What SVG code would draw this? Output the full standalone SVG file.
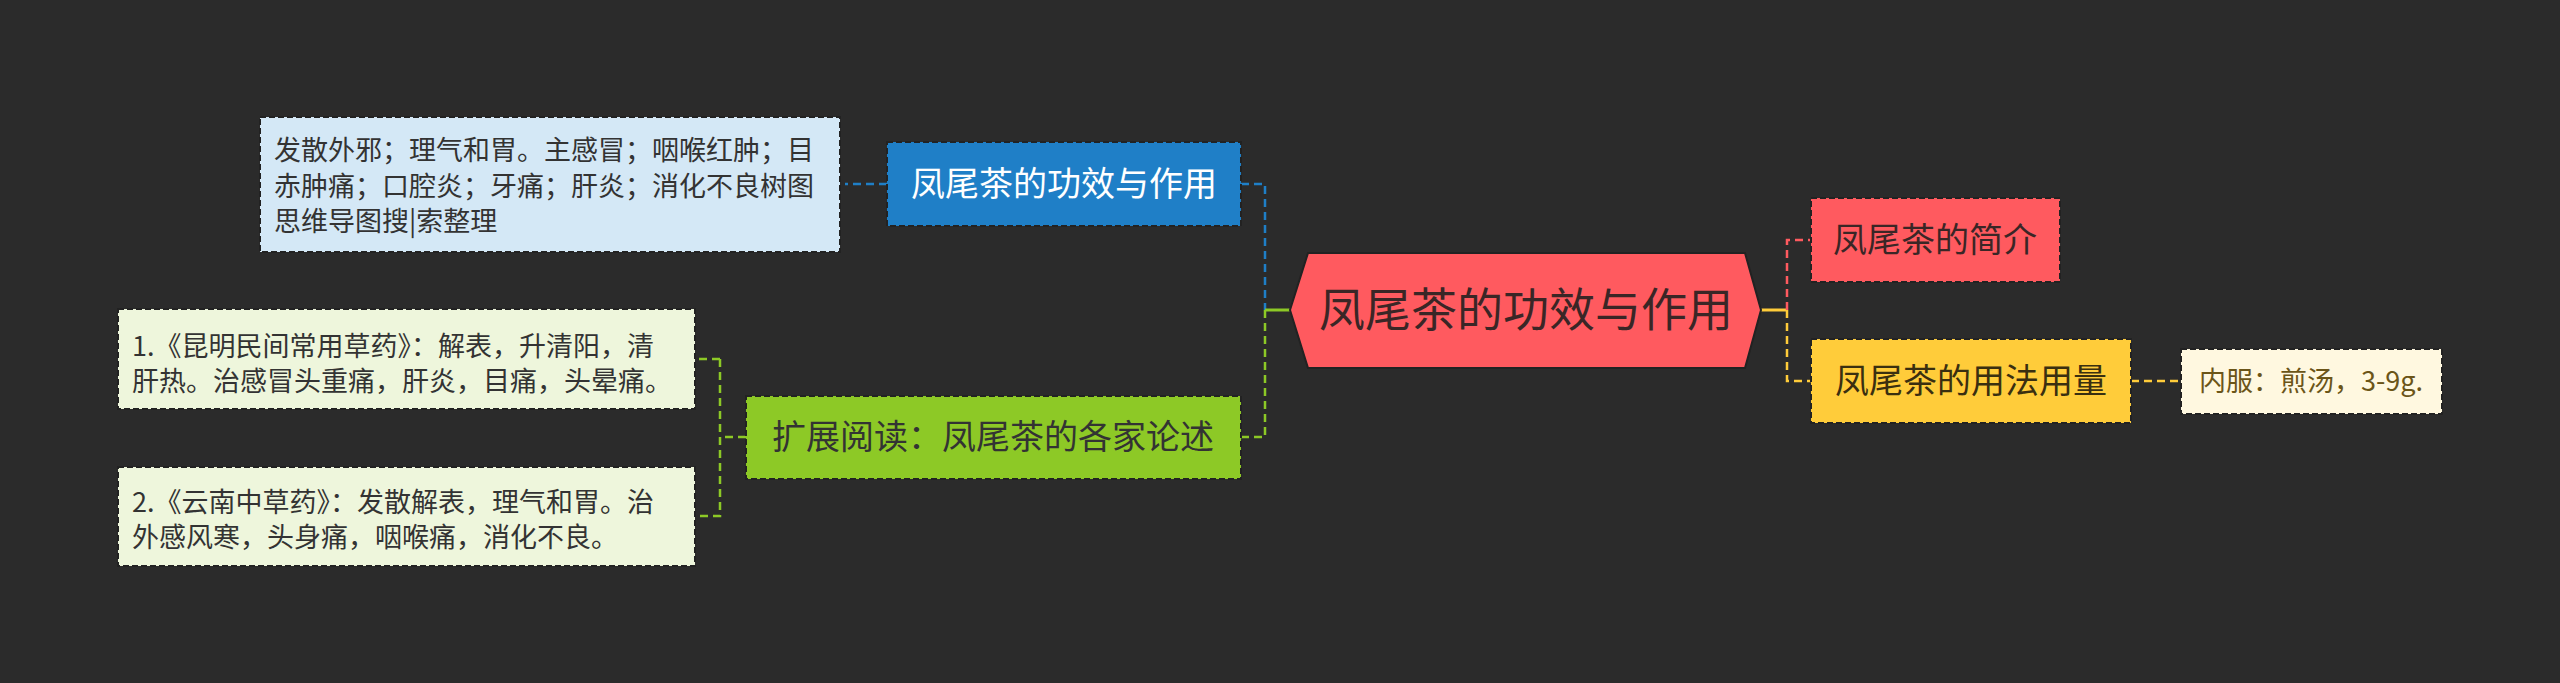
<svg xmlns="http://www.w3.org/2000/svg" width="2560" height="683" viewBox="0 0 2560 683">
<style>
text{font-family:"Noto Sans CJK SC","Liberation Sans",sans-serif}
.b{stroke:#222;stroke-width:2;stroke-dasharray:6 3}
.c{fill:none;stroke-width:2.5;stroke-dasharray:8 5}
</style>
<rect width="2560" height="683" fill="#2b2b2b"/>
<g id="connectors">
<path class="c" stroke="#1f7fc7" d="M1241 184H1265V310M887 184H845"/>
<path class="c" stroke="#8dc926" d="M1265 310V437H1241M746 437H720M720 359H695M720 359V516H695"/>
<path d="M1265 310H1290" stroke="#8dc926" stroke-width="3"/>
<path d="M1761 310H1787" stroke="#ffcc3a" stroke-width="3"/>
<path class="c" stroke="#ff5a5f" d="M1787 310V240H1811"/>
<path class="c" stroke="#ffcc3a" d="M1787 310V381H1811M2131 381H2181"/>
</g>
<g id="center">
<polygon points="1290,310 1308,253 1745,253 1761,310 1745,368 1308,368" fill="#ff5a5f" stroke="#222" stroke-width="2"/>
<text x="1526" y="326" font-size="46" fill="#3a2626" text-anchor="middle">凤尾茶的功效与作用</text>
</g>
<g id="n1">
<rect class="b" x="887" y="142" width="354" height="84" fill="#1f7fc7"/>
<text x="1064" y="196" font-size="34" fill="#fff" text-anchor="middle">凤尾茶的功效与作用</text>
</g>
<g id="n1a">
<rect class="b" x="260" y="117" width="580" height="135" fill="#d4e8f6"/>
<g font-size="27" fill="#333"><text x="274" y="160">发散外邪；理气和胃。主感冒；咽喉红肿；目</text><text x="274" y="196">赤肿痛；口腔炎；牙痛；肝炎；消化不良树图</text><text x="274" y="231">思维导图搜|索整理</text></g>
</g>
<g id="n2">
<rect class="b" x="746" y="396" width="495" height="83" fill="#8dc926"/>
<text x="993" y="449" font-size="34" fill="#333" text-anchor="middle">扩展阅读：凤尾茶的各家论述</text>
</g>
<g id="n2a">
<rect class="b" x="118" y="309" width="577" height="100" fill="#eef6dc"/>
<g font-size="27" fill="#333"><text x="132" y="356">1.《昆明民间常用草药》：解表，升清阳，清</text><text x="132" y="391">肝热。治感冒头重痛，肝炎，目痛，头晕痛。</text></g>
</g>
<g id="n2b">
<rect class="b" x="118" y="467" width="577" height="99" fill="#eef6dc"/>
<g font-size="27" fill="#333"><text x="132" y="512">2.《云南中草药》：发散解表，理气和胃。治</text><text x="132" y="547">外感风寒，头身痛，咽喉痛，消化不良。</text></g>
</g>
<g id="n3">
<rect class="b" x="1811" y="198" width="249" height="84" fill="#ff5a5f"/>
<text x="1935" y="252" font-size="34" fill="#3a2626" text-anchor="middle">凤尾茶的简介</text>
</g>
<g id="n4">
<rect class="b" x="1811" y="339" width="320" height="84" fill="#ffcc3a"/>
<text x="1971" y="393" font-size="34" fill="#3a2f10" text-anchor="middle">凤尾茶的用法用量</text>
</g>
<g id="n4a">
<rect class="b" x="2181" y="349" width="261" height="65" fill="#fff8e0"/>
<text x="2311" y="391" font-size="27" fill="#6b5518" text-anchor="middle">内服：煎汤，3-9g.</text>
</g>
</svg>
